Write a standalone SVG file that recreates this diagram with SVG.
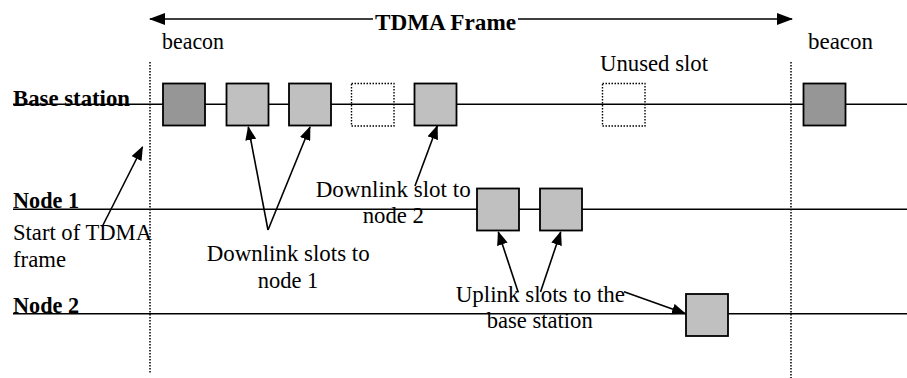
<svg xmlns="http://www.w3.org/2000/svg" width="907" height="378" viewBox="0 0 907 378">
  <defs>
    <marker id="head" markerWidth="16" markerHeight="12" refX="15" refY="6" orient="auto" markerUnits="userSpaceOnUse">
      <path d="M0,0 L16,6 L0,12 Z" fill="#000"/>
    </marker>
    <marker id="headSmall" markerWidth="14" markerHeight="11" refX="13" refY="5.5" orient="auto" markerUnits="userSpaceOnUse">
      <path d="M0,0 L14,5.5 L0,11 Z" fill="#000"/>
    </marker>
  </defs>
  <style>
    text { font-family: "Liberation Serif", "Times New Roman", serif; font-size: 22.5px; fill: #000; }
    .bold { font-weight: bold; }
    .timeline { stroke: #000; stroke-width: 1.6; fill: none; }
    .frame-edge { stroke: #000; stroke-width: 1.5; stroke-dasharray: 1.5 1.5; fill: none; }
    .slot { stroke: #000; stroke-width: 1.8; }
    .beacon { fill: #969696; }
    .data { fill: #c0c0c0; }
    .unused { fill: none; stroke: #000; stroke-width: 1.4; stroke-dasharray: 1.5 1.5; }
    .pointer { stroke: #000; stroke-width: 1.6; fill: none; marker-end: url(#headSmall); }
    .span { stroke: #000; stroke-width: 1.6; fill: none; marker-end: url(#head); }
  </style>

  <rect width="907" height="378" fill="#fff"/>

  <!-- frame boundaries -->
  <g id="frame-bounds">
    <line class="frame-edge" x1="150" y1="62" x2="150" y2="373"/>
    <line class="frame-edge" x1="791" y1="62" x2="791" y2="378"/>
  </g>

  <!-- TDMA frame span -->
  <g id="tdma-frame">
    <line class="span" x1="373" y1="19" x2="150" y2="19"/>
    <line class="span" x1="518" y1="19" x2="792" y2="19"/>
    <text class="bold" x="375" y="30" textLength="141" lengthAdjust="spacingAndGlyphs">TDMA Frame</text>
  </g>

  <!-- station timelines -->
  <g id="base-station">
    <line class="timeline" x1="13" y1="104.3" x2="907" y2="104.3"/>
    <text class="bold" x="13" y="106" textLength="117" lengthAdjust="spacingAndGlyphs">Base station</text>
  </g>
  <g id="node-1">
    <line class="timeline" x1="13" y1="209.3" x2="907" y2="209.3"/>
    <text class="bold" x="13" y="208" textLength="66" lengthAdjust="spacingAndGlyphs">Node 1</text>
  </g>
  <g id="node-2">
    <line class="timeline" x1="13" y1="313.7" x2="907" y2="313.7"/>
    <text class="bold" x="13" y="313" textLength="66" lengthAdjust="spacingAndGlyphs">Node 2</text>
  </g>

  <!-- slots on the base station line -->
  <g id="bs-beacon-1"><rect class="slot beacon" x="163" y="83.5" width="42" height="42"/></g>
  <g id="bs-down-1"><rect class="slot data" x="226.5" y="83.5" width="42" height="42"/></g>
  <g id="bs-down-2"><rect class="slot data" x="289" y="83.5" width="42" height="42"/></g>
  <g id="bs-unused-1"><rect class="unused" x="351.5" y="83.5" width="42.5" height="42.5"/></g>
  <g id="bs-down-3"><rect class="slot data" x="414.5" y="83.5" width="42" height="42"/></g>
  <g id="bs-unused-2"><rect class="unused" x="602.5" y="83.5" width="42.5" height="42.5"/></g>
  <g id="bs-beacon-2"><rect class="slot beacon" x="803.5" y="83.5" width="42" height="42"/></g>

  <!-- slots on node 1 -->
  <g id="n1-up-1"><rect class="slot data" x="477" y="188.5" width="42" height="42"/></g>
  <g id="n1-up-2"><rect class="slot data" x="540" y="188.5" width="42" height="42"/></g>

  <!-- slot on node 2 -->
  <g id="n2-up-1"><rect class="slot data" x="686" y="294" width="42" height="42"/></g>

  <!-- annotation pointers -->
  <g id="connectors">
    <line class="pointer" x1="102" y1="227" x2="142.5" y2="147"/>
    <line class="pointer" x1="268" y1="230" x2="248.3" y2="127"/>
    <line class="pointer" x1="268" y1="230" x2="310" y2="127"/>
    <line class="pointer" x1="415" y1="186" x2="437.3" y2="126"/>
    <line class="pointer" x1="518.3" y1="292.5" x2="498.3" y2="232"/>
    <line class="pointer" x1="540.5" y1="292" x2="560.7" y2="232"/>
    <line class="pointer" x1="624" y1="291.7" x2="685" y2="313.5"/>
  </g>

  <!-- labels -->
  <g id="labels">
    <text x="162" y="49" textLength="62" lengthAdjust="spacingAndGlyphs">beacon</text>
    <text x="808" y="49" textLength="65" lengthAdjust="spacingAndGlyphs">beacon</text>
    <text x="600" y="71" textLength="108" lengthAdjust="spacingAndGlyphs">Unused slot</text>
    <text x="13" y="239.5" textLength="139" lengthAdjust="spacingAndGlyphs">Start of TDMA</text>
    <text x="13" y="266.7" textLength="53" lengthAdjust="spacingAndGlyphs">frame</text>
    <text x="206.7" y="260.7" textLength="163" lengthAdjust="spacingAndGlyphs">Downlink slots to</text>
    <text x="257.7" y="287.7" textLength="60.6" lengthAdjust="spacingAndGlyphs">node 1</text>
    <text x="315.7" y="197.3" textLength="155" lengthAdjust="spacingAndGlyphs">Downlink slot to</text>
    <text x="362.7" y="223.3" textLength="61.3" lengthAdjust="spacingAndGlyphs">node 2</text>
    <text x="455.7" y="301.7" textLength="169.3" lengthAdjust="spacingAndGlyphs">Uplink slots to the</text>
    <text x="486.7" y="328.3" textLength="106" lengthAdjust="spacingAndGlyphs">base station</text>
  </g>
</svg>
